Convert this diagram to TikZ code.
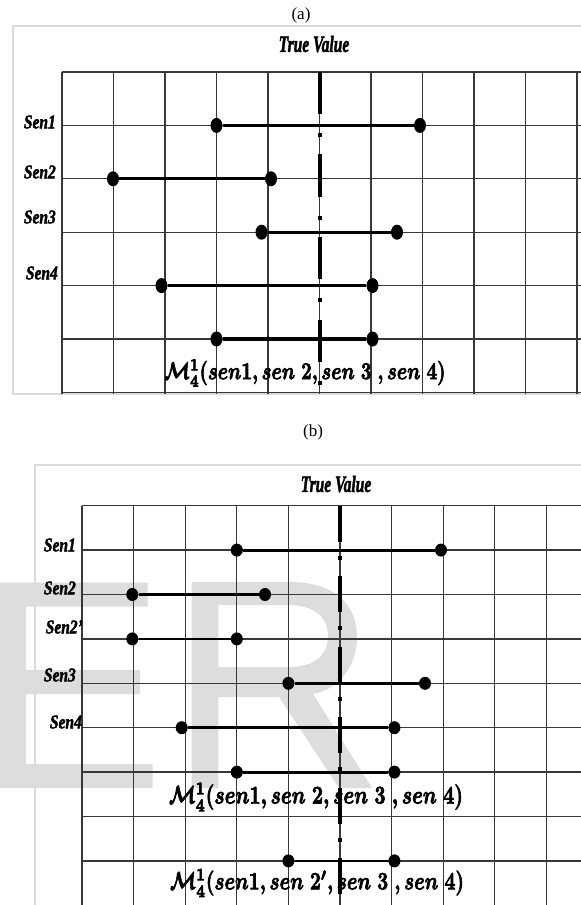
\documentclass[tikz,border=0pt]{standalone}
\usepackage{fontspec}
\setmainfont{Liberation Serif}
\usetikzlibrary{shapes.geometric}

\definecolor{gridc}{gray}{0.22}
\definecolor{framec}{gray}{0.86}
\definecolor{markc}{gray}{0.865}

% outline-thickened glyphs (fill + stroke text rendering)
\newcommand{\heavytext}[2]{%
  \special{pdf:literal direct 2 Tr #1 w}#2\special{pdf:literal direct 0 Tr}}

% fused interval expression, set at a fixed printed width
\newcommand{\fusedexpr}[2]{%
  \resizebox{#1}{!}{\scalebox{1}[1.3]{\heavytext{0.3}{\boldmath$\mathcal{M}_{\mathbf{4}}^{\mathbf{1}}(sen1,sen\;#2,sen\;3\;,sen\;4)$}}}}

\tikzset{
  gridline/.style={draw=gridc, line width=1.3pt},
  framebox/.style={draw=framec, line width=1.6pt},
  truevA/.style={draw=black, line width=4pt, dash pattern=on 42.5pt off 18.7pt on 4pt off 17.4pt},
  truevB/.style={draw=black, line width=4pt, dash pattern=on 36pt off 14pt on 4pt off 16.5pt},
  dotA/.style={ellipse, fill=black, inner sep=0pt, minimum width=12pt, minimum height=15pt},
  dotB/.style={ellipse, fill=black, inner sep=0pt, minimum width=12pt, minimum height=13pt},
  barA/.style={draw=black, line width=3.2pt},
  barB/.style={draw=black, line width=2.8pt},
  senlab/.style={anchor=east, inner sep=0pt, font=\bfseries\itshape\fontsize{15.5}{16}\selectfont},
  titlelab/.style={inner sep=0pt, font=\bfseries\itshape\fontsize{15.5}{16}\selectfont},
  panlab/.style={inner sep=0pt, font=\fontsize{17}{18}\selectfont},
  fuselab/.style={inner sep=0pt},
}
\newcommand{\senname}[1]{\scalebox{1}[1.25]{\heavytext{0.35}{#1}}}

\begin{document}
\begin{tikzpicture}[x=1pt, y=-1pt]
\useasboundingbox (0,0) rectangle (581,905);
\fill[white] (0,0) rectangle (581,905);

% ---------------- watermark letters behind panel (b)
\fill[markc] (0,582.7) -- (147.7,582.7) -- (147.7,606.7) -- (26,606.7) -- (26,670)
  -- (140,670) -- (140,694) -- (26,694) -- (26,764) -- (152.7,764) -- (152.7,788)
  -- (0,788) -- cycle;
\fill[markc, even odd rule]
  (191.7,582) -- (290,582) .. controls (335,582) and (357,605) .. (357,637)
  .. controls (357,668) and (337,690) .. (313,694) -- (372,788) -- (339,788)
  -- (279,697) -- (218.3,697) -- (218.3,788) -- (191.7,788) -- cycle
  (218.3,605) -- (288,605) .. controls (315,605) and (328,618) .. (328,636)
  .. controls (328,655) and (315,667) .. (288,667) -- (218.3,667) -- cycle;

% ---------------- panel (a)
\node[panlab] (capA) at (301,15) {(a)};
\draw[framebox] (585,26) -- (13,26) -- (13,394) -- (585,394);
\node[titlelab] (tvtextA) at (314,44) {\scalebox{1}[1.5]{\heavytext{0.35}{True Value}}};

\foreach \i in {0,...,10}
  \draw[gridline] ({62+51.5*\i},72) -- ({62+51.5*\i},394);
\foreach \j in {0,...,6}
  \draw[gridline] (62,{72+53.4*\j}) -- (581,{72+53.4*\j});

\coordinate (tvA1) at (319.5,71.7);
\coordinate (tvA2) at (319.5,393);
\draw[truevA] (tvA1) -- (tvA2);

\node[senlab] (lA1) at (56,122) {\senname{Sen1}};
\node[senlab] (lA2) at (56,172) {\senname{Sen2}};
\node[senlab] (lA3) at (56,217) {\senname{Sen3}};
\node[senlab] (lA4) at (58,273) {\senname{Sen4}};

\node[dotA] (a1l) at (216.5,125.4) {};
\node[dotA] (a1r) at (420,125.4) {};
\node[dotA] (a2l) at (113,178.8) {};
\node[dotA] (a2r) at (271,178.8) {};
\node[dotA] (a3l) at (261.5,232.2) {};
\node[dotA] (a3r) at (397,232.2) {};
\node[dotA] (a4l) at (161.5,285.6) {};
\node[dotA] (a4r) at (372.5,285.6) {};
\node[dotA] (afl) at (216.5,339) {};
\node[dotA] (afr) at (372.5,339) {};
\draw[barA] (a1l) -- (a1r);
\draw[barA] (a2l) -- (a2r);
\draw[barA] (a3l) -- (a3r);
\draw[barA] (a4l) -- (a4r);
\draw[barA] (afl) -- (afr);

\node[fuselab] (fA) at (305,373) {\fusedexpr{281pt}{2}};

% ---------------- panel (b)
\node[panlab] (capB) at (313,432) {(b)};
\draw[framebox] (585,465) -- (35,465) -- (35,910);
\node[titlelab] (tvtextB) at (336,484) {\scalebox{1}[1.5]{\heavytext{0.35}{True Value}}};

\foreach \i in {0,...,9}
  \draw[gridline] ({82+51.6*\i},505.7) -- ({82+51.6*\i},910);
\foreach \j in {0,...,9}
  \draw[gridline] (82,{505.7+44.4*\j}) -- (581,{505.7+44.4*\j});

\coordinate (tvB1) at (340,505.7);
\coordinate (tvB2) at (340,910);
\draw[truevB] (tvB1) -- (tvB2);

\node[senlab] (lB1) at (76,545) {\senname{Sen1}};
\node[senlab] (lB2) at (76,588) {\senname{Sen2}};
\node[senlab] (lB3) at (83,627) {\senname{Sen2'}};
\node[senlab] (lB4) at (76,675) {\senname{Sen3}};
\node[senlab] (lB5) at (82,722) {\senname{Sen4}};

\node[dotB] (b1l) at (236.8,550.1) {};
\node[dotB] (b1r) at (441,550.1) {};
\node[dotB] (b2l) at (132.3,594.5) {};
\node[dotB] (b2r) at (265,594.5) {};
\node[dotB] (b5l) at (132.3,638.9) {};
\node[dotB] (b5r) at (236.8,638.9) {};
\node[dotB] (b3l) at (288.4,683.3) {};
\node[dotB] (b3r) at (425,683.3) {};
\node[dotB] (b4l) at (181.7,727.7) {};
\node[dotB] (b4r) at (394.4,727.7) {};
\node[dotB] (bfl) at (236.8,772.1) {};
\node[dotB] (bfr) at (394.4,772.1) {};
\node[dotB] (bgl) at (288.4,860.9) {};
\node[dotB] (bgr) at (394.4,860.9) {};
\draw[barB] (b1l) -- (b1r);
\draw[barB] (b2l) -- (b2r);
\draw[barB] (b5l) -- (b5r);
\draw[barB] (b3l) -- (b3r);
\draw[barB] (b4l) -- (b4r);
\draw[barB] (bfl) -- (bfr);
\draw[barB] (bgl) -- (bgr);

\node[fuselab] (fB1) at (316,797) {\fusedexpr{294pt}{2}};
\node[fuselab] (fB2) at (317,883) {\fusedexpr{294pt}{2'}};
\end{tikzpicture}
\end{document}
